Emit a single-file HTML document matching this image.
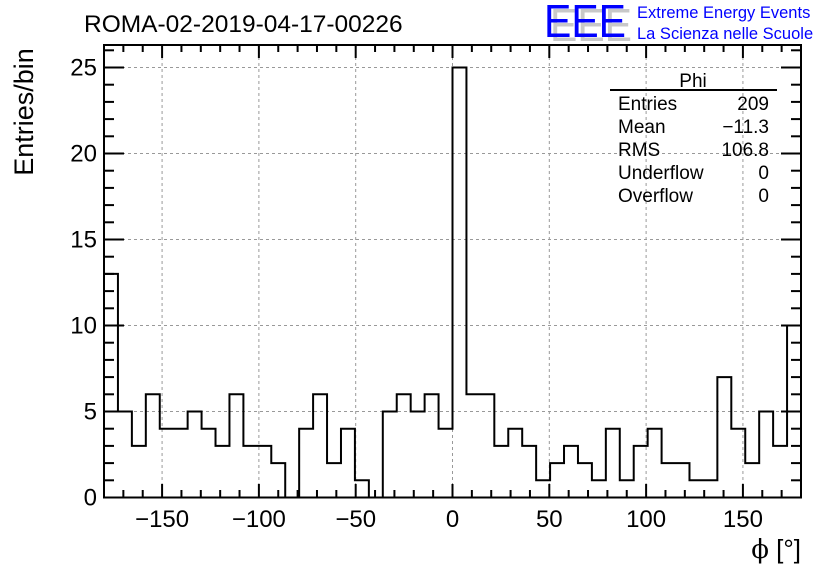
<!DOCTYPE html>
<html><head><meta charset="utf-8"><style>
body{margin:0;background:#fff;}
text{font-family:"Liberation Sans",sans-serif;}
</style></head><body>
<svg id="chart" width="836" height="572" xmlns="http://www.w3.org/2000/svg">
<rect width="836" height="572" fill="#fff"/>
<g id="grid"></g>
<g id="ticks"></g>
<path id="hist" fill="none" stroke="#000" stroke-width="2"/>
<rect x="104" y="45" width="697" height="452.5" fill="none" stroke="#000" stroke-width="2"/>
<text x="84" y="32" font-size="24.5">ROMA-02-2019-04-17-00226</text>
<text transform="translate(33,112) rotate(-90)" text-anchor="middle" font-size="27">Entries/bin</text>
<text x="801" y="558" text-anchor="end" font-size="26"><tspan font-family="DejaVu Serif, serif">ϕ</tspan> [°]</text>
<g>
<text x="550" y="41" font-size="46" fill="#c8c8c8" textLength="82" lengthAdjust="spacingAndGlyphs">EEE</text>
<text x="544" y="37" font-size="46" fill="#0000ff" textLength="82" lengthAdjust="spacingAndGlyphs">EEE</text>
<text x="637" y="18" font-size="16.5" fill="#0000ff">Extreme Energy Events</text>
<text x="637" y="39" font-size="16.5" fill="#0000ff">La Scienza nelle Scuole</text>
</g>
<g font-size="19">
<text x="693" y="87" text-anchor="middle">Phi</text>
<line x1="610" y1="90" x2="777" y2="90" stroke="#000" stroke-width="2"/>
<text x="618" y="110">Entries</text><text x="769" y="110" text-anchor="end">209</text>
<text x="618" y="133">Mean</text><text x="769" y="133" text-anchor="end">−11.3</text>
<text x="618" y="156">RMS</text><text x="769" y="156" text-anchor="end">106.8</text>
<text x="618" y="179">Underflow</text><text x="769" y="179" text-anchor="end">0</text>
<text x="618" y="202">Overflow</text><text x="769" y="202" text-anchor="end">0</text>
</g>
</svg>
<script>
const counts=[13,5,3,6,4,4,5,4,3,6,3,3,2,0,4,6,2,4,1,0,5,6,5,6,4,25,6,6,3,4,3,1,2,3,2,1,4,1,3,4,2,2,1,1,7,4,2,5,3,10];
const xTicks=[-150,-100,-50,0,50,100,150];
const yTicks=[0,5,10,15,20,25];
const xMin=-180,xMax=180;
const X=v=>104+(v-xMin)/(xMax-xMin)*697;
const Y=v=>497.5-v*17.2;
const NS="http://www.w3.org/2000/svg";
const bw=(xMax-xMin)/counts.length;
let d="M"+X(xMin)+","+Y(0);
counts.forEach((c,i)=>{d+=" L"+X(xMin+i*bw)+","+Y(c)+" L"+X(xMin+(i+1)*bw)+","+Y(c);});
d+=" L"+X(xMax)+","+Y(0);
document.getElementById('hist').setAttribute('d',d);
const grid=document.getElementById('grid'),ticks=document.getElementById('ticks');
function ln(g,x1,y1,x2,y2,extra){const l=document.createElementNS(NS,'line');l.setAttribute('x1',x1);l.setAttribute('y1',y1);l.setAttribute('x2',x2);l.setAttribute('y2',y2);l.setAttribute('stroke',extra?'#999':'#000');l.setAttribute('stroke-width',extra?1:2);if(extra)l.setAttribute('stroke-dasharray','3,3');g.appendChild(l);return l;}
function tx(str,x,y,anchor){const t=document.createElementNS(NS,'text');t.textContent=str;t.setAttribute('x',x);t.setAttribute('y',y);t.setAttribute('font-size','24');t.setAttribute('text-anchor',anchor);document.getElementById('chart').appendChild(t);return t;}
xTicks.forEach(v=>{const x=X(v);
const g=ln(grid,x,45,x,497.5,true);


ln(ticks,x,497.5,x,484);ln(ticks,x,45,x,58);
const t=tx(v<0?'−'+(-v):String(v),x,527,'middle');

});
for(let v=-170;v<=170;v+=10){if(v%50===0)continue;const x=X(v);ln(ticks,x,497.5,x,490);ln(ticks,x,45,x,52);}
yTicks.forEach(v=>{const y=Y(v);
if(v>0){const g=ln(grid,104,y,801,y,true);

}
ln(ticks,104,y,124,y);ln(ticks,801,y,781,y);
const t=tx(String(v),97,y+8,'end');

});
for(let v=1;v<=26;v++){if(v%5===0)continue;const y=Y(v);if(y<45)break;ln(ticks,104,y,114,y);ln(ticks,801,y,791,y);}
</script>
</body></html>
